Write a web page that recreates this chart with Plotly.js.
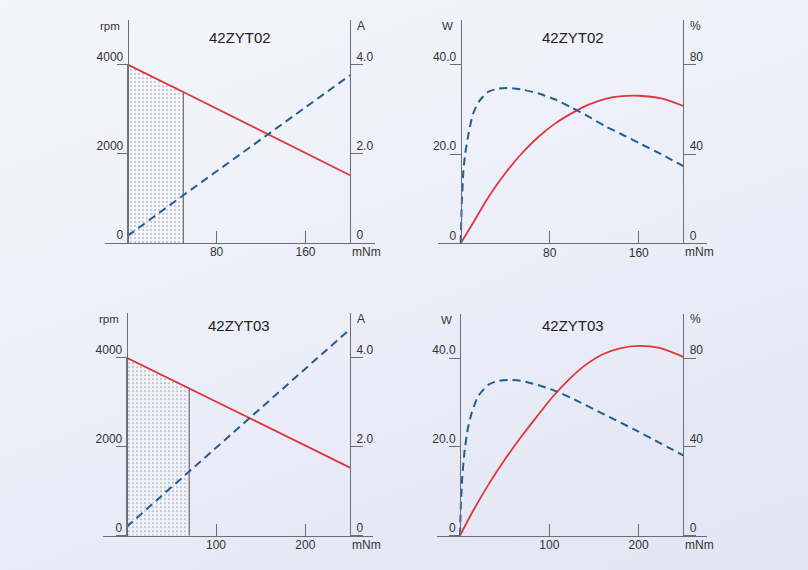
<!DOCTYPE html>
<html>
<head>
<meta charset="utf-8">
<script src="https://cdn.plot.ly/plotly-3.0.1.min.js"></script>
<style>
  html, body { margin: 0; padding: 0; }
  body { width: 808px; height: 570px; background: linear-gradient(160deg, #f5f6fb 0%, #eceef8 50%, #e1e4f2 100%); }
  #chart { width: 808px; height: 570px; }
</style>
</head>
<body>
<div id="chart"></div>
<script>
// ---------- DATA ----------
// 42ZYT02 : speed / current vs torque
const torque02 = [0, 50, 200];          // mNm (50 = rated torque, end of shaded zone)
const speed02 = [4000, 3385, 1520];     // rpm
const current02 = [0.16, 1.07, 3.76];   // A

// 42ZYT03 : speed / current vs torque
const torque03 = [0, 70, 250];
const speed03 = [4000, 3310, 1530];
const current03 = [0.20, 1.44, 4.64];

// 42ZYT02 : output power & efficiency vs torque
const powTorque02 = [0, 10, 25, 40, 55, 70, 85, 100, 115, 130, 145, 160, 180, 200];
const power02 = [0, 4.1, 10.4, 15.7, 20.2, 23.9, 26.9, 29.2, 31.1, 32.4, 33.0, 33.1, 32.5, 30.8];
const effTorque02 = [0, 1, 2.5, 4, 7, 11, 17, 25, 34, 44, 55, 70, 85, 100, 115, 130, 145, 160, 180, 200];
const eff02 = [0, 18, 33, 40, 49, 58, 64, 68, 69.4, 69.7, 69, 67.2, 64.5, 60.8, 56.8, 52.5, 48.8, 45, 40, 34.6];

// 42ZYT03 : output power & efficiency vs torque
const powTorque03 = [0, 13, 31.5, 50, 68.5, 87, 105, 125, 140, 160, 180, 200, 222, 250];
const power03 = [0, 5, 11.4, 17.1, 22.3, 27.1, 31.6, 35.8, 38.4, 40.9, 42.3, 42.8, 42.4, 40.3];
const effTorque03 = [0, 1, 2.6, 4.8, 8.5, 13, 20, 31.5, 42.6, 55.6, 68.5, 87, 105.6, 125, 159, 196, 250];
const eff03 = [0, 14.6, 26.6, 37, 47.7, 55.2, 62.7, 68, 69.8, 70.2, 69.8, 68, 65.4, 62, 55.2, 47.7, 36.2];

// tick labels
const titles = ['42ZYT02', '42ZYT02', '42ZYT03', '42ZYT03'];
const xTicks02 = [80, 160];
const xTicks03 = [100, 200];
const rpmTicks = [0, 2000, 4000];
const rpmTickText = ['0', '2000', '4000'];
const ampTicks = [0, 2, 4];
const ampTickText = ['0', '2.0', '4.0'];
const wattTicks = [0, 20, 40];
const wattTickText = ['0', '20.0', '40.0'];
const pctTicks = [0, 40, 80];
const pctTickText = ['0', '40', '80'];

// ---------- LAYOUT HELPERS ----------
const W = 808, H = 570;
const px = v => v / W;
const py = v => 1 - v / H;
const RED = '#e0353c';
const BLUE = '#215d94';
const AXIS = '#6a6d75';
const TXT = '#333333';
const FONT = 'Liberation Sans, Arial, Helvetica, sans-serif';

const layout = {
  width: W, height: H,
  margin: {l: 0, r: 0, t: 0, b: 0},
  paper_bgcolor: 'rgba(0,0,0,0)',
  plot_bgcolor: 'rgba(0,0,0,0)',
  showlegend: false,
  font: {family: FONT, size: 12, color: TXT},
  annotations: []
};
const traces = [];

// panel geometry (pixels)
const panels = [
  {xl: 105, xr: 375, ax0: 127.7, ax1: 350, xmax: 200, yb: 243, yt: 20, ymax: 5000, y2max: 5, ty: 37.7,
   xt: xTicks02, lt: rpmTicks, ltt: rpmTickText, rt: ampTicks, rtt: ampTickText, lname: 'rpm', rname: 'A'},
  {xl: 438, xr: 707, ax0: 460.7, ax1: 683.3, xmax: 200, yb: 243.3, yt: 20.4, ymax: 50, y2max: 100, ty: 37.7,
   xt: xTicks02, lt: wattTicks, ltt: wattTickText, rt: pctTicks, rtt: pctTickText, lname: 'W', rname: '%'},
  {xl: 103, xr: 373, ax0: 126.7, ax1: 350, xmax: 250, yb: 535.7, yt: 313.2, ymax: 5000, y2max: 5, ty: 325.5,
   xt: xTicks03, lt: rpmTicks, ltt: rpmTickText, rt: ampTicks, rtt: ampTickText, lname: 'rpm', rname: 'A'},
  {xl: 437, xr: 707, ax0: 460, ax1: 683.3, xmax: 250, yb: 535.7, yt: 313.9, ymax: 50, y2max: 100, ty: 325.5,
   xt: xTicks03, lt: wattTicks, ltt: wattTickText, rt: pctTicks, rtt: pctTickText, lname: 'W', rname: '%'}
];

panels.forEach((p, i) => {
  const n = i + 1;
  const xk = n === 1 ? 'xaxis' : 'xaxis' + n;
  const xr = n === 1 ? 'x' : 'x' + n;
  const yl = 2 * n - 1, yr = 2 * n;
  const ylk = yl === 1 ? 'yaxis' : 'yaxis' + yl;
  const ylr = yl === 1 ? 'y' : 'y' + yl;
  const yrk = 'yaxis' + yr;
  const yrr = 'y' + yr;
  const s = (p.ax1 - p.ax0) / p.xmax;
  const dom = [py(p.yb), py(p.yt)];

  layout[xk] = {
    domain: [px(p.xl), px(p.xr)],
    range: [(p.xl - p.ax0) / s, p.xmax + (p.xr - p.ax1) / s],
    anchor: ylr,
    showgrid: false, zeroline: false,
    showline: true, linecolor: AXIS, linewidth: 1,
    ticks: 'inside', ticklen: 12, tickcolor: AXIS, tickwidth: 1,
    tickmode: 'array', tickvals: p.xt, ticktext: p.xt.map(String),
    ticklabelstandoff: -2,
    tickfont: {size: 12, color: TXT, family: FONT},
    fixedrange: true
  };
  layout[ylk] = {
    domain: dom, range: [0, p.ymax],
    anchor: 'free', position: px(p.ax0), side: 'left',
    showgrid: false, zeroline: false,
    showline: true, linecolor: AXIS, linewidth: 1,
    ticks: 'outside', ticklen: 11, tickcolor: AXIS, tickwidth: 1,
    tickmode: 'array', tickvals: p.lt, ticktext: p.ltt,
    ticklabelshift: -8, ticklabelstandoff: -9,
    tickfont: {size: 12, color: TXT, family: FONT},
    fixedrange: true
  };
  layout[yrk] = {
    range: [0, p.y2max],
    overlaying: ylr, anchor: 'free', position: px(p.ax1), side: 'right',
    showgrid: false, zeroline: false,
    showline: true, linecolor: AXIS, linewidth: 1,
    ticks: 'outside', ticklen: 12, tickcolor: AXIS, tickwidth: 1,
    tickmode: 'array', tickvals: p.rt, ticktext: p.rtt,
    ticklabelshift: -8, ticklabelstandoff: -9,
    tickfont: {size: 12, color: TXT, family: FONT},
    fixedrange: true
  };

  // axis names and panel title
  layout.annotations.push(
    {xref: 'paper', yref: 'paper', x: px(p.ax0 - 6), y: py(p.yt + 6), xanchor: 'right', yanchor: 'middle',
     text: p.lname, showarrow: false, font: {size: 11.5, color: TXT, family: FONT}},
    {xref: 'paper', yref: 'paper', x: px(p.ax1 + 5), y: py(p.yt + 5.5), xanchor: 'left', yanchor: 'middle',
     text: p.rname, showarrow: false, font: {size: 12, color: TXT, family: FONT}},
    {xref: 'paper', yref: 'paper', x: px(p.ax1), y: py(p.yb + 9), xanchor: 'left', yanchor: 'middle',
     text: 'mNm', showarrow: false, font: {size: 12, color: TXT, family: FONT}},
    {xref: 'paper', yref: 'paper', x: px((p.ax0 + p.ax1) / 2 + 1), y: py(p.ty), xanchor: 'center', yanchor: 'middle',
     text: titles[i], showarrow: false, font: {size: 15, color: '#222', family: FONT}}
  );
  p.refs = {x: xr, yl: ylr, yr: yrr};
});

// ---------- TRACES ----------
function speedPanel(p, torque, speed, current) {
  // shaded rated zone (dotted)
  traces.push({
    type: 'scatter', mode: 'lines', xaxis: p.refs.x, yaxis: p.refs.yl,
    x: [torque[0], torque[0], torque[1], torque[1]],
    y: [0, speed[0], speed[1], 0],
    fill: 'toself', fillcolor: 'rgba(255,255,255,0.25)',
    fillpattern: {shape: '.', bgcolor: 'rgba(255,255,255,0.35)', fgcolor: '#707582', size: 4, solidity: 0.08},
    line: {color: '#55585f', width: 1}, hoverinfo: 'skip'
  });
  traces.push({
    type: 'scatter', mode: 'lines', xaxis: p.refs.x, yaxis: p.refs.yl,
    x: torque, y: speed, line: {color: RED, width: 1.8}
  });
  traces.push({
    type: 'scatter', mode: 'lines', xaxis: p.refs.x, yaxis: p.refs.yr,
    x: torque, y: current, line: {color: BLUE, width: 2, dash: '8px,5px'}
  });
}
function powerPanel(p, pt, pw, et, ef) {
  traces.push({
    type: 'scatter', mode: 'lines', xaxis: p.refs.x, yaxis: p.refs.yl,
    x: pt, y: pw, line: {color: RED, width: 1.8, shape: 'spline', smoothing: 1}
  });
  traces.push({
    type: 'scatter', mode: 'lines', xaxis: p.refs.x, yaxis: p.refs.yr,
    x: et, y: ef, line: {color: BLUE, width: 2, dash: '8px,5px', shape: 'spline', smoothing: 0.6}
  });
}

speedPanel(panels[0], torque02, speed02, current02);
powerPanel(panels[1], powTorque02, power02, effTorque02, eff02);
speedPanel(panels[2], torque03, speed03, current03);
powerPanel(panels[3], powTorque03, power03, effTorque03, eff03);

Plotly.newPlot('chart', traces, layout, {displayModeBar: false, staticPlot: true});
</script>
</body>
</html>
